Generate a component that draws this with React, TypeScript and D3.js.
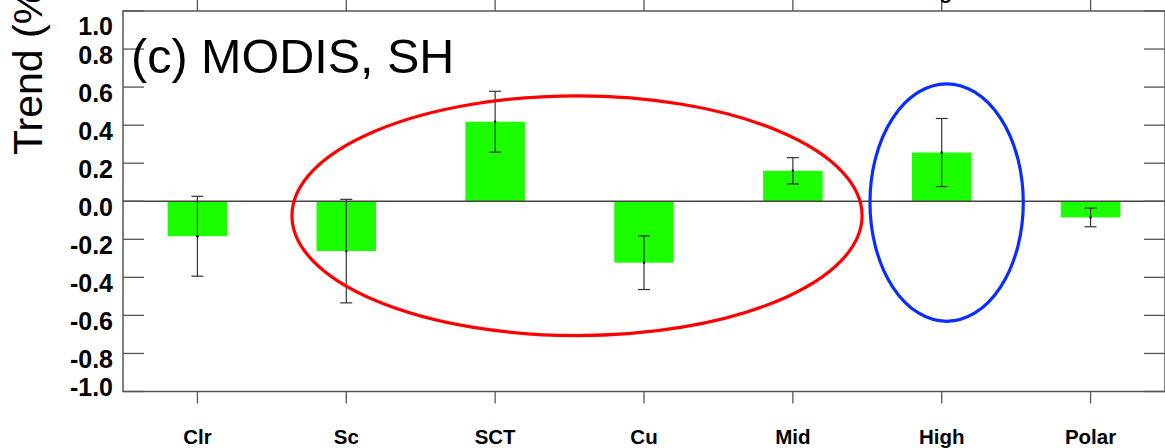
import * as d3 from 'd3';

const categories = ['Clr', 'Sc', 'SCT', 'Cu', 'Mid', 'High', 'Polar'];
const trend = [-0.184, -0.262, 0.418, -0.323, 0.16, 0.256, -0.085];
const trendErr = [0.21, 0.272, 0.16, 0.141, 0.069, 0.179, 0.049];
const yTicks = [1.0, 0.8, 0.6, 0.4, 0.2, 0.0, -0.2, -0.4, -0.6, -0.8, -1.0];

// hand-drawn highlight ellipses (category index / value units)
const highlights = [
  { color: '#ff0000', cx: 2.55, rx: 1.915, cy: -0.076, ry: 0.63 },
  { color: '#0a2dff', cx: 5.033, rx: 0.515, cy: -0.007, ry: 0.624 },
];

const W = 1165;
const H = 448;
const margin = { left: 123, right: 0, top: 11, bottom: 56 };

export default function App() {
  const x = d3.scaleBand<string>().domain(categories).range([margin.left, W - margin.right]).padding(0);
  const xi = d3.scaleLinear().domain([-0.5, categories.length - 0.5]).range([margin.left, W - margin.right]);
  const y = d3.scaleLinear().domain([-1, 1]).range([H - margin.bottom - 0.5, margin.top]);
  const bw = x.bandwidth() * 0.4;
  const axisColor = '#555';
  const top = y(1);
  const bottom = y(-1);
  const left = margin.left;
  const right = W - margin.right;
  const font = '"Liberation Sans", Arial, Helvetica, sans-serif';

  return (
    <svg width={W} height={H} style={{ position: 'absolute', left: 0, top: 0, background: '#fff' }}>
      {/* bars */}
      {categories.map((c, i) => {
        const cx = x(c)! + x.bandwidth() / 2;
        const v = trend[i];
        return (
          <rect key={c} x={cx - bw / 2} y={Math.min(y(v), y(0))} width={bw}
            height={Math.abs(y(v) - y(0))} fill="#1cff00" />
        );
      })}

      {/* zero line */}
      <line x1={left} x2={right} y1={y(0)} y2={y(0)} stroke="#444" strokeWidth={1.4} />

      {/* error bars */}
      {categories.map((c, i) => {
        const cx = x(c)! + x.bandwidth() / 2;
        const hi = y(trend[i] + trendErr[i]);
        const lo = y(trend[i] - trendErr[i]);
        return (
          <g key={c} stroke="#333" strokeWidth={1.2}>
            <line x1={cx} x2={cx} y1={hi} y2={lo} />
            <line x1={cx - 6} x2={cx + 6} y1={hi} y2={hi} />
            <line x1={cx - 6} x2={cx + 6} y1={lo} y2={lo} />
            <circle cx={cx} cy={y(trend[i])} r={1.2} fill="#111" stroke="none" />
          </g>
        );
      })}

      {/* frame */}
      <rect x={left} y={top} width={right - left} height={bottom - top} fill="none" stroke={axisColor} strokeWidth={1.5} />

      {/* y ticks, left and right, pointing inward */}
      {yTicks.map(t => (
        <g key={t} stroke={axisColor} strokeWidth={1.3}>
          <line x1={left} x2={left + 21} y1={y(t)} y2={y(t)} />
          <line x1={right - 21} x2={right} y1={y(t)} y2={y(t)} />
        </g>
      ))}
      {yTicks.map(t => {
        const cy = Math.max(25.5, Math.min(386.5, y(t) + 5.5));
        return (
          <text key={t} x={113} y={cy} dy="0.36em" textAnchor="end" fontFamily={font}
            fontWeight="bold" fontSize={25} fill="#000">{t.toFixed(1)}</text>
        );
      })}

      {/* x ticks, top and bottom, pointing outward */}
      {categories.map(c => {
        const cx = x(c)! + x.bandwidth() / 2;
        return (
          <g key={c}>
            <line x1={cx} x2={cx} y1={bottom} y2={bottom + 12} stroke={axisColor} strokeWidth={1.3} />
            <line x1={cx} x2={cx} y1={top} y2={top - 12} stroke={axisColor} strokeWidth={1.3} />
            <text x={cx} y={444} textAnchor="middle" fontFamily={font} fontWeight="bold" fontSize={20.5} fill="#000">{c}</text>
            {/* upper labels sit above the panel and are mostly clipped, as in the source */}
            <text x={cx} y={-1} textAnchor="middle" fontFamily={font} fontWeight="bold" fontSize={20.5} fill="#000">{c}</text>
          </g>
        );
      })}

      {/* highlight ellipses */}
      {highlights.map((h, i) => (
        <ellipse key={i} cx={xi(h.cx)} cy={y(h.cy)} rx={xi(h.rx) - xi(0)} ry={y(0) - y(h.ry)}
          fill="none" stroke={h.color} strokeWidth={3.2} />
      ))}

      {/* panel title */}
      <text x={131} y={73} fontFamily={font} fontSize={48.5} fill="#000">(c) MODIS, SH</text>

      {/* y axis title */}
      <text transform="translate(42,155) rotate(-90)" fontFamily={font} fontSize={41} fill="#000">Trend (%/decade)</text>
    </svg>
  );
}
